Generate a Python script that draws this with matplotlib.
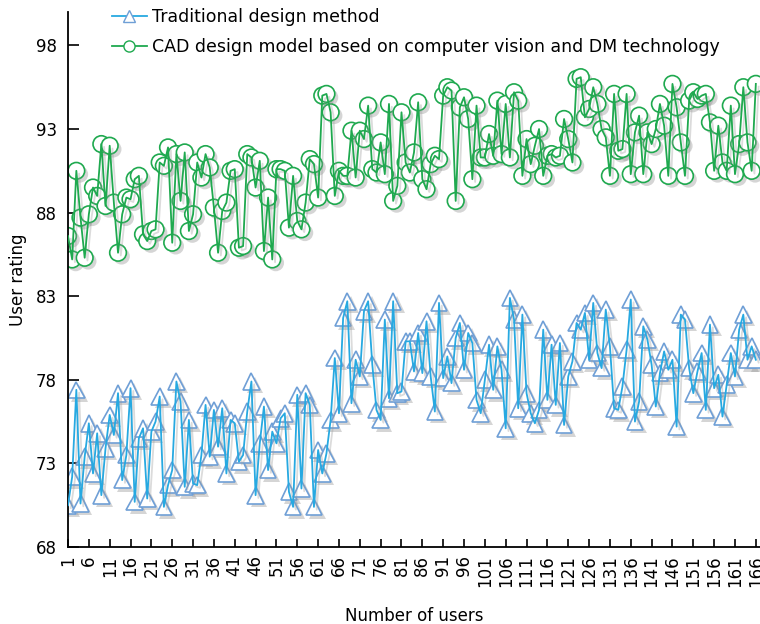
import numpy as np
import matplotlib
matplotlib.use("Agg")
import matplotlib.pyplot as plt
import matplotlib.patheffects as pe
from matplotlib.lines import Line2D

# user ratings, users 1..166
users = np.arange(1, 167)

cad = [
    86.6, 85.2, 90.5, 87.7, 85.3, 87.9, 89.5, 89.0, 92.1, 88.4,
    92.0, 88.6, 85.6, 87.9, 88.9, 88.8, 90.0, 90.2, 86.7, 86.3,
    86.9, 87.0, 91.0, 90.8, 91.9, 86.2, 91.5, 88.7, 91.6, 86.9,
    87.9, 91.0, 90.1, 91.5, 90.7, 88.3, 85.6, 88.1, 88.6, 90.5,
    90.6, 85.9, 86.0, 91.5, 91.3, 89.5, 91.1, 85.7, 88.9, 85.2,
    90.6, 90.6, 90.5, 87.1, 90.2, 87.5, 87.0, 88.6, 91.2, 90.9,
    88.9, 95.0, 95.1, 94.0, 89.0, 90.5, 90.2, 90.2, 92.9, 90.1,
    92.9, 92.4, 94.4, 90.6, 90.4, 92.2, 90.3, 94.5, 88.7, 89.6,
    94.0, 91.0, 90.4, 91.6, 94.6, 90.0, 89.4, 90.9, 91.4, 91.2,
    95.0, 95.5, 95.3, 88.7, 94.3, 94.9, 93.6, 90.0, 94.4, 91.3,
    91.3, 92.7, 91.4, 94.7, 91.5, 94.5, 91.3, 95.2, 94.7, 90.2,
    92.4, 90.9, 92.0, 93.0, 90.2, 91.4, 91.5, 91.3, 91.4, 93.6,
    92.4, 91.0, 96.0, 96.1, 93.7, 94.2, 95.5, 94.5, 93.0, 92.5,
    90.2, 95.1, 91.7, 91.8, 95.1, 90.3, 92.8, 93.8, 90.3, 92.8,
    92.1, 93.0, 94.5, 93.2, 90.2, 95.7, 94.3, 92.2, 90.2, 94.7,
    95.2, 94.8, 95.0, 95.1, 93.4, 90.5, 93.2, 91.0, 90.5, 94.4,
    90.3, 92.1, 95.5, 92.2, 90.5, 95.7,
]

traditional = [
    70.5, 72.2, 77.4, 70.6, 73.4, 75.4, 72.4, 74.8, 71.1, 73.9,
    75.9, 74.7, 77.2, 72.0, 73.5, 77.5, 70.7, 74.5, 75.1, 70.9,
    74.9, 75.5, 77.0, 70.4, 71.7, 72.6, 77.9, 76.7, 71.6, 75.6,
    71.8, 71.7, 73.5, 76.5, 73.4, 76.2, 74.0, 76.3, 72.4, 75.6,
    75.4, 73.1, 73.5, 76.1, 77.9, 71.1, 74.2, 76.4, 72.6, 74.9,
    74.2, 75.7, 76.0, 71.3, 70.4, 77.1, 71.5, 77.2, 76.5, 70.4,
    73.8, 72.4, 73.6, 75.6, 79.3, 76.0, 81.7, 82.7, 76.6, 79.2,
    78.2, 82.1, 82.7, 78.9, 76.2, 75.6, 81.6, 76.9, 82.7, 77.2,
    77.3, 80.3, 80.3, 78.5, 80.8, 78.4, 81.5, 78.2, 76.1, 82.6,
    78.1, 79.4, 77.8, 80.5, 81.4, 78.6, 80.8, 80.2, 76.8, 76.0,
    78.0, 80.1, 77.4, 80.0, 78.6, 75.1, 82.9, 81.6, 76.3, 81.9,
    77.2, 76.0, 75.4, 76.2, 81.0, 76.8, 80.1, 76.5, 80.2, 75.3,
    78.2, 79.1, 81.4, 81.0, 82.0, 79.2, 82.6, 79.6, 78.7, 82.2,
    80.0, 76.3, 76.2, 77.6, 79.8, 82.8, 75.5, 76.7, 81.2, 80.4,
    78.9, 76.4, 78.4, 79.7, 78.6, 79.2, 75.2, 81.9, 81.6, 78.7,
    77.2, 78.5, 79.6, 76.2, 81.3, 77.5, 78.3, 75.8, 77.7, 79.6,
    78.2, 81.0, 81.9, 79.2, 80.0, 79.2,
]

labels = ["Traditional design method",
          "CAD design model based on computer vision and DM technology"]

xticks = np.arange(1, 167, 5)
yticks = [68, 73, 78, 83, 88, 93, 98]

green = "#1fa94f"
blue_line = "#27a9e1"
blue_edge = "#6f9fd6"

plt.rcParams["font.family"] = ["DejaVu Sans"]

fig = plt.figure(figsize=(7.6, 6.24), dpi=100)
ax = fig.add_axes([68 / 760, 1 - 547 / 624, 692 / 760, 535 / 624])

mark_shadow = [pe.SimplePatchShadow(offset=(2.5, -2.5), shadow_rgbFace="#888888", alpha=0.35), pe.Normal()]
line_shadow = [pe.SimpleLineShadow(offset=(2, -2), shadow_color="#999999", alpha=0.35), pe.Normal()]

# green series
ax.plot(users, cad, ls="none", marker="o", ms=12, mfc="white", mec=green, mew=1.2,
        zorder=2, path_effects=mark_shadow)
ax.plot(users, cad, color=green, lw=1.3, zorder=3, path_effects=line_shadow)

# blue series
ax.plot(users, traditional, ls="none", marker="^", ms=12, mfc="white", mec=blue_edge, mew=1.2,
        zorder=2, path_effects=mark_shadow)
ax.plot(users, traditional, color=blue_line, lw=1.3, zorder=3, path_effects=line_shadow)

ax.set_xlim(1, 167)
ax.set_ylim(68, 100)
ax.set_xticks(xticks)
ax.set_xticklabels([str(t) for t in xticks], rotation=90, fontsize=12)
ax.set_yticks(yticks)
ax.set_yticklabels([str(t) for t in yticks], fontsize=12)
ax.tick_params(axis="y", direction="in", length=8, width=1.2, pad=8)
ax.tick_params(axis="x", direction="in", length=6, width=1.2, pad=6)

for s in ["top", "right"]:
    ax.spines[s].set_visible(False)
for s in ["left", "bottom"]:
    ax.spines[s].set_linewidth(1.3)

ax.set_xlabel("Number of users", fontsize=12, labelpad=14)
ax.set_ylabel("User rating", fontsize=12, labelpad=6)

handles = [
    Line2D([], [], color=blue_line, lw=1.3, marker="^", ms=8, mfc="white", mec=blue_edge),
    Line2D([], [], color=green, lw=1.3, marker="o", ms=8, mfc="white", mec=green),
]
ax.legend(handles, labels, loc="upper left", bbox_to_anchor=(0.041, 1.037), frameon=False,
          fontsize=12.5, handlelength=2.0, handletextpad=0.3, labelspacing=0.7)

fig.savefig("out.png", dpi=100)
